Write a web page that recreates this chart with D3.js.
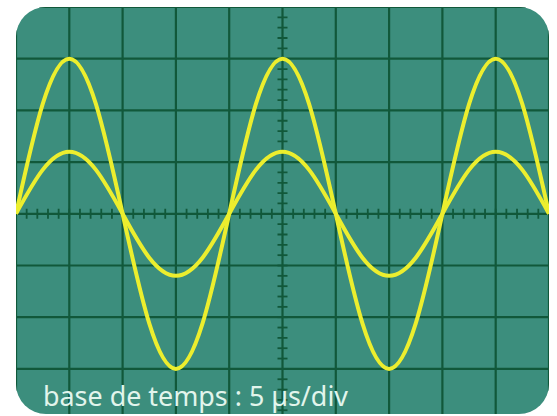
<!DOCTYPE html>
<html>
<head>
<meta charset="utf-8">
<script src="https://cdn.jsdelivr.net/npm/d3@7"></script>
<style>
  html, body { margin: 0; padding: 0; background: #fff; }
  svg { display: block; }
</style>
</head>
<body>
<div id="scope"></div>
<script>
const timeDiv = [0, 0.5, 1, 1.5, 2, 2.5, 3, 3.5, 4, 4.5, 5, 5.5, 6, 6.5, 7, 7.5, 8, 8.5, 9, 9.5, 10];
const bigWave = [0, 2.12, 3, 2.12, 0, -2.12, -3, -2.12, 0, 2.12, 3, 2.12, 0, -2.12, -3, -2.12, 0, 2.12, 3, 2.12, 0];
const smallWave = [0, 0.85, 1.2, 0.85, 0, -0.85, -1.2, -0.85, 0, 0.85, 1.2, 0.85, 0, -0.85, -1.2, -0.85, 0, 0.85, 1.2, 0.85, 0];
const xDivs = [0, 10];
const yDivs = [-4, 4];
const caption = "base de temps : 5 µs/div";

const W = 557, H = 416;
// écran
const scrLeft = 16, scrRight = 549, scrTop = 7, rowH = 51.7;
const scrBottom = 414;

const svg = d3.select("#scope").append("svg")
  .attr("width", W)
  .attr("height", H);

const x = d3.scaleLinear(xDivs, [scrLeft, scrRight]);
const y = d3.scaleLinear(yDivs, [scrTop + 8 * rowH, scrTop]);

svg.append("clipPath").attr("id", "ecran")
  .append("rect")
  .attr("x", scrLeft).attr("y", scrTop)
  .attr("width", scrRight - scrLeft).attr("height", scrBottom - scrTop)
  .attr("rx", 30).attr("ry", 30);

const g = svg.append("g").attr("clip-path", "url(#ecran)");

g.append("rect")
  .attr("x", scrLeft).attr("y", scrTop)
  .attr("width", scrRight - scrLeft).attr("height", scrBottom - scrTop)
  .attr("fill", "#3c8e7d");

const gridCol = "#11583a";

// quadrillage
g.append("g").selectAll("line")
  .data(d3.range(xDivs[0], xDivs[1] + 1))
  .join("line")
  .attr("x1", d => x(d)).attr("x2", d => x(d))
  .attr("y1", scrTop).attr("y2", scrBottom)
  .attr("stroke", gridCol).attr("stroke-width", 2.2);

g.append("g").selectAll("line")
  .data(d3.range(yDivs[0], yDivs[1] + 1))
  .join("line")
  .attr("y1", d => y(d)).attr("y2", d => y(d))
  .attr("x1", scrLeft).attr("x2", scrRight)
  .attr("stroke", gridCol).attr("stroke-width", 2.2);

// graduations sur les axes centraux (1/5 div)
const subX = d3.range(xDivs[0] * 5, xDivs[1] * 5 + 1).map(d => d / 5);
const subY = d3.range(yDivs[0] * 5, yDivs[1] * 5 + 1).map(d => d / 5);

g.append("g").selectAll("line")
  .data(subX)
  .join("line")
  .attr("x1", d => x(d)).attr("x2", d => x(d))
  .attr("y1", y(0) - 5).attr("y2", y(0) + 5)
  .attr("stroke", gridCol).attr("stroke-width", 1.8);

g.append("g").selectAll("line")
  .data(subY)
  .join("line")
  .attr("y1", d => y(d)).attr("y2", d => y(d))
  .attr("x1", x(5) - 5).attr("x2", x(5) + 5)
  .attr("stroke", gridCol).attr("stroke-width", 1.8);

// courbes
const line = d3.line()
  .x((d, i) => x(timeDiv[i]))
  .y(d => y(d))
  .curve(d3.curveNatural);

[bigWave, smallWave].forEach(s => {
  g.append("path")
    .attr("d", line(s))
    .attr("fill", "none")
    .attr("stroke", "#ecee2e")
    .attr("stroke-width", 4);
});

svg.append("text")
  .attr("x", 43)
  .attr("y", 406)
  .attr("fill", "#e2f5ec")
  .attr("font-family", "'Noto Sans', sans-serif")
  .attr("font-size", 27)
  .attr("textLength", 305)
  .attr("lengthAdjust", "spacingAndGlyphs")
  .text(caption);
</script>
</body>
</html>
